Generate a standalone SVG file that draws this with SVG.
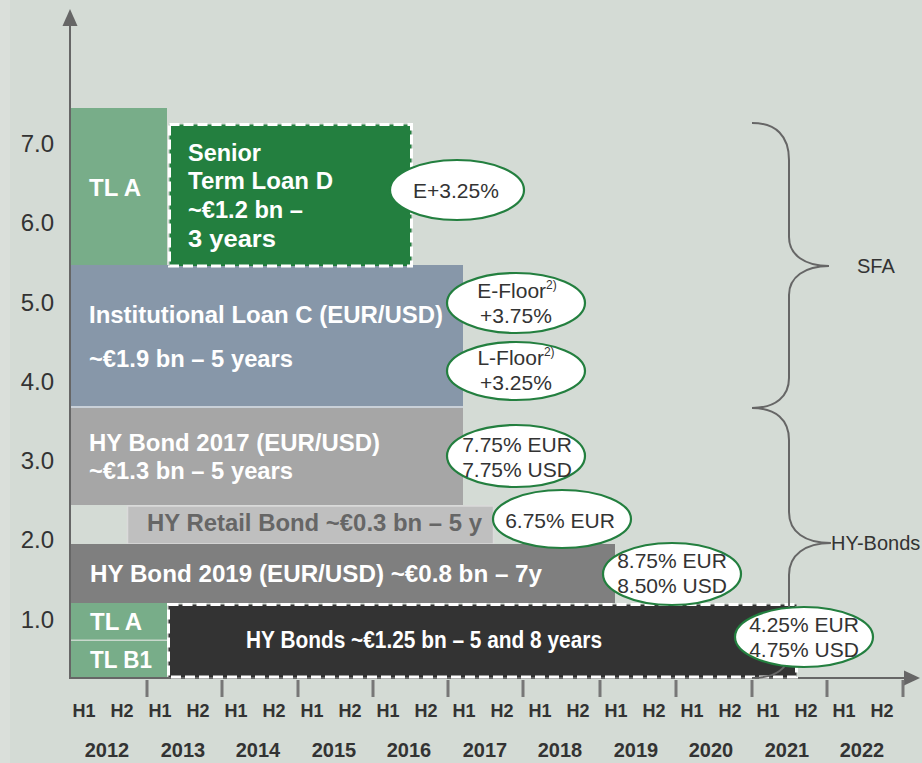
<svg xmlns="http://www.w3.org/2000/svg" width="922" height="763" viewBox="0 0 922 763">
<style>
.bar{stroke:none}
.lbl{font-family:"Liberation Sans",Arial,sans-serif;font-weight:bold;font-size:23px;fill:#ffffff}
.ell{fill:#ffffff;stroke:#237f3f;stroke-width:2.2}
.et{font-family:"Liberation Sans",Arial,sans-serif;font-size:21px;fill:#333333;text-anchor:middle}
.sup{font-size:12px}
.ax{stroke:#666666;stroke-width:2;fill:none}
.tick{stroke:#777777;stroke-width:3}
.yl{font-family:"Liberation Sans",Arial,sans-serif;font-size:24px;fill:#333333;text-anchor:end}
.hl{font-family:"Liberation Sans",Arial,sans-serif;font-weight:bold;font-size:18px;fill:#333333;text-anchor:middle}
.yr{font-family:"Liberation Sans",Arial,sans-serif;font-weight:bold;font-size:20px;fill:#333333;text-anchor:middle}
.dash{fill:none;stroke:#ffffff;stroke-width:3;stroke-dasharray:10 4}
.brace{fill:none;stroke:#666666;stroke-width:2}
.bl{font-family:"Liberation Sans",Arial,sans-serif;font-size:20px;fill:#333333}
</style>
<rect x="0" y="0" width="922" height="763" fill="#d4dbd5"/>
<rect x="0" y="0" width="10" height="763" fill="#dadfda"/>

<g id="tla-top"><rect class="bar" x="70" y="108" width="97" height="157" fill="#78ad89"/>
<text class="lbl" x="89" y="196" textLength="52" lengthAdjust="spacingAndGlyphs">TL A</text></g>

<g id="inst-loan-c"><rect class="bar" x="70" y="265" width="393" height="141" fill="#8797a9"/>
<text class="lbl" x="89" y="323" textLength="354" lengthAdjust="spacingAndGlyphs">Institutional Loan C (EUR/USD)</text>
<text class="lbl" x="89" y="367" textLength="204" lengthAdjust="spacingAndGlyphs">~€1.9 bn – 5 years</text></g>
<rect x="70" y="406" width="393" height="2" fill="#c9d0d8"/>

<g id="hy-bond-2017"><rect class="bar" x="70" y="408" width="393" height="97" fill="#a6a6a6"/>
<text class="lbl" x="89" y="451" textLength="291" lengthAdjust="spacingAndGlyphs">HY Bond 2017 (EUR/USD)</text>
<text class="lbl" x="89" y="479" textLength="204" lengthAdjust="spacingAndGlyphs">~€1.3 bn – 5 years</text></g>

<g id="hy-retail-bond"><rect x="127.5" y="506" width="366" height="38" fill="#bfbfbf" stroke="#dadada" stroke-width="1.5"/>
<text class="lbl" x="147" y="531" textLength="335" lengthAdjust="spacingAndGlyphs" style="fill:#666666">HY Retail Bond ~€0.3 bn – 5 y</text></g>

<g id="hy-bond-2019"><rect class="bar" x="70" y="544" width="545" height="59" fill="#7f7f7f"/>
<text class="lbl" x="90" y="582" textLength="452" lengthAdjust="spacingAndGlyphs">HY Bond 2019 (EUR/USD) ~€0.8 bn  – 7y</text></g>

<g id="tla-bottom"><rect class="bar" x="70" y="603" width="97" height="37" fill="#78ad89"/>
<text class="lbl" x="90" y="630" textLength="52" lengthAdjust="spacingAndGlyphs">TL A</text></g>
<rect x="70" y="639.5" width="97" height="1.5" fill="#c8d8cc"/>
<g id="tlb1"><rect class="bar" x="70" y="641" width="97" height="37" fill="#78ad89"/>
<text class="lbl" x="90" y="668" textLength="62" lengthAdjust="spacingAndGlyphs">TL B1</text></g>

<g id="axes">
<line class="ax" x1="70" y1="24" x2="70" y2="679"/>
<polygon points="62.5,26 70,9 77.5,26" fill="#666666"/>
<line class="ax" x1="70" y1="678" x2="906" y2="678"/>
<polygon points="904,670.5 920,678 904,685.5" fill="#666666"/>
<line class="tick" x1="147" y1="680" x2="147" y2="697"/>
<line class="tick" x1="222" y1="680" x2="222" y2="697"/>
<line class="tick" x1="298" y1="680" x2="298" y2="697"/>
<line class="tick" x1="373" y1="680" x2="373" y2="697"/>
<line class="tick" x1="448" y1="680" x2="448" y2="697"/>
<line class="tick" x1="523" y1="680" x2="523" y2="697"/>
<line class="tick" x1="600" y1="680" x2="600" y2="697"/>
<line class="tick" x1="676" y1="680" x2="676" y2="697"/>
<line class="tick" x1="752" y1="680" x2="752" y2="697"/>
<line class="tick" x1="827" y1="680" x2="827" y2="697"/>
<line class="tick" x1="903" y1="680" x2="903" y2="697"/>
</g>

<g id="senior-term-loan-d"><rect x="169.5" y="124.5" width="242" height="141.5" fill="#237f3f"/>
<rect class="dash" x="169.5" y="124.5" width="242" height="141.5"/>
<text class="lbl" x="188" y="161" textLength="73" lengthAdjust="spacingAndGlyphs">Senior</text>
<text class="lbl" x="188" y="189" textLength="145" lengthAdjust="spacingAndGlyphs">Term Loan D</text>
<text class="lbl" x="188" y="218" textLength="115" lengthAdjust="spacingAndGlyphs">~€1.2 bn –</text>
<text class="lbl" x="188" y="247" textLength="88" lengthAdjust="spacingAndGlyphs">3  years</text></g>

<g id="hy-bonds"><rect x="168.5" y="604.5" width="628" height="72.5" fill="#333333"/>
<rect class="dash" x="168.5" y="604.5" width="628" height="72.5"/>
<text class="lbl" x="246" y="648" textLength="356" lengthAdjust="spacingAndGlyphs">HY Bonds ~€1.25 bn – 5 and 8 years</text></g>

<g id="connectors">
<path class="brace" d="M752,123 C776,123 789,136 789,160 L789,237 C789,255 805,266 829,266 C805,266 789,277 789,295 L789,378 C789,396 776,408 752,408"/>
<path class="brace" d="M752,408 C776,408 789,420 789,440 L789,512 C789,532 805,543 831,543 C805,543 789,555 789,575 L789,652 C789,668 776,678 752,678"/>
</g>

<g id="ell-e325"><ellipse class="ell" cx="457" cy="190" rx="67" ry="30"/>
<text class="et" x="456" y="198">E+3.25%</text></g>
<g id="ell-efloor"><ellipse class="ell" cx="516" cy="303" rx="69" ry="30"/>
<text class="et" x="517" y="298">E-Floor<tspan class="sup" dy="-9">2)</tspan></text>
<text class="et" x="516" y="323">+3.75%</text></g>
<g id="ell-lfloor"><ellipse class="ell" cx="516" cy="371" rx="69" ry="29"/>
<text class="et" x="516" y="365">L-Floor<tspan class="sup" dy="-9">2)</tspan></text>
<text class="et" x="516" y="390">+3.25%</text></g>
<g id="ell-775"><ellipse class="ell" cx="516" cy="456" rx="69" ry="31"/>
<text class="et" x="517" y="452">7.75% EUR</text>
<text class="et" x="517" y="477">7.75% USD</text></g>
<g id="ell-675"><ellipse class="ell" cx="562" cy="519" rx="69" ry="29"/>
<text class="et" x="560" y="528">6.75% EUR</text></g>
<g id="ell-875"><ellipse class="ell" cx="672" cy="574" rx="69" ry="31"/>
<text class="et" x="672" y="568">8.75% EUR</text>
<text class="et" x="672" y="593">8.50% USD</text></g>
<g id="ell-425"><ellipse class="ell" cx="804" cy="637" rx="69" ry="30"/>
<text class="et" x="804" y="632">4.25% EUR</text>
<text class="et" x="804" y="657">4.75% USD</text></g>

<g id="brace-labels">
<text class="bl" x="857" y="273">SFA</text>
<text class="bl" x="831" y="550">HY-Bonds</text>
</g>

<g id="y-labels">
<text class="yl" x="54" y="152">7.0</text>
<text class="yl" x="54" y="231">6.0</text>
<text class="yl" x="54" y="311">5.0</text>
<text class="yl" x="54" y="390">4.0</text>
<text class="yl" x="54" y="469">3.0</text>
<text class="yl" x="54" y="548">2.0</text>
<text class="yl" x="54" y="628">1.0</text>
</g>

<g id="x-labels">
<text class="hl" x="84" y="717">H1</text><text class="hl" x="122" y="717">H2</text>
<text class="hl" x="160" y="717">H1</text><text class="hl" x="198" y="717">H2</text>
<text class="hl" x="236" y="717">H1</text><text class="hl" x="274" y="717">H2</text>
<text class="hl" x="312" y="717">H1</text><text class="hl" x="350" y="717">H2</text>
<text class="hl" x="388" y="717">H1</text><text class="hl" x="426" y="717">H2</text>
<text class="hl" x="464" y="717">H1</text><text class="hl" x="502" y="717">H2</text>
<text class="hl" x="540" y="717">H1</text><text class="hl" x="578" y="717">H2</text>
<text class="hl" x="616" y="717">H1</text><text class="hl" x="654" y="717">H2</text>
<text class="hl" x="692" y="717">H1</text><text class="hl" x="730" y="717">H2</text>
<text class="hl" x="768" y="717">H1</text><text class="hl" x="806" y="717">H2</text>
<text class="hl" x="844" y="717">H1</text><text class="hl" x="882" y="717">H2</text>
<text class="yr" x="107" y="757">2012</text>
<text class="yr" x="183" y="757">2013</text>
<text class="yr" x="258" y="757">2014</text>
<text class="yr" x="334" y="757">2015</text>
<text class="yr" x="409" y="757">2016</text>
<text class="yr" x="485" y="757">2017</text>
<text class="yr" x="560" y="757">2018</text>
<text class="yr" x="636" y="757">2019</text>
<text class="yr" x="711" y="757">2020</text>
<text class="yr" x="787" y="757">2021</text>
<text class="yr" x="862" y="757">2022</text>
</g>
</svg>
